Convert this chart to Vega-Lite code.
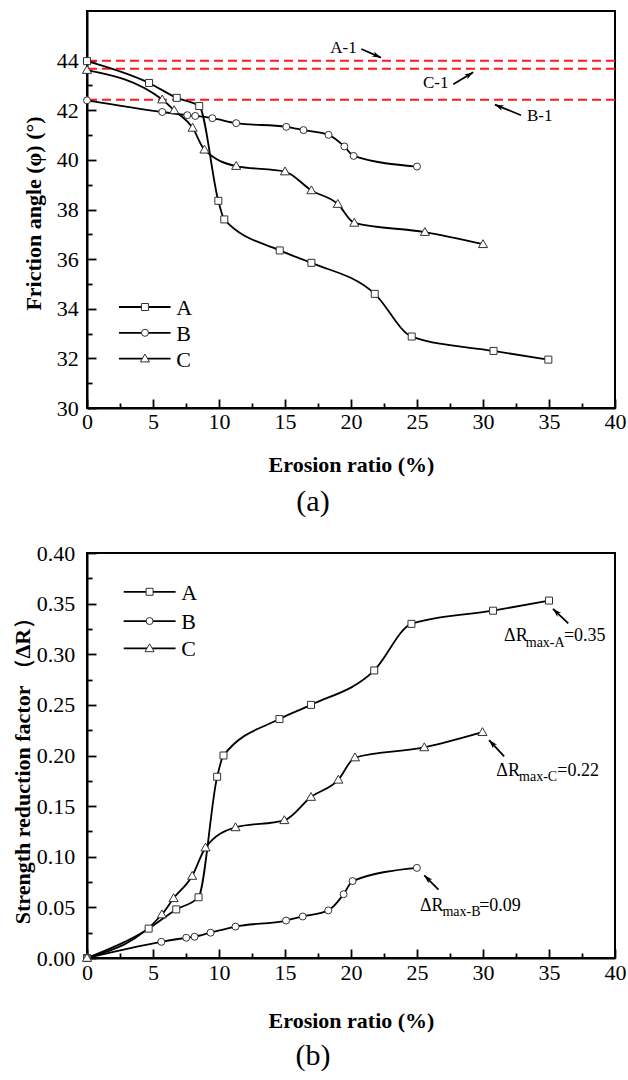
{
  "$schema": "https://vega.github.io/schema/vega-lite/v6.json",
  "padding": {"left": 10, "top": 10, "right": 0, "bottom": 0},
  "spacing": 23,
  "config": {
    "font": "Liberation Serif",
    "view": {"stroke": "black", "strokeWidth": 2},
    "style": {
      "guide-label": {"font": "Liberation Serif", "fontSize": 22, "fill": "black"},
      "guide-title": {"font": "Liberation Serif", "fontSize": 22, "fontWeight": "bold", "fill": "black"}
    },
    "axis": {
      "grid": false, "domainColor": "black", "domainWidth": 2, "tickColor": "black", "tickWidth": 1.8,
      "labelFont": "Liberation Serif", "labelFontSize": 22, "labelColor": "black",
      "titleFont": "Liberation Serif", "titleFontSize": 22, "titleFontWeight": "bold", "titleColor": "black"
    },
    "title": {"font": "Liberation Serif", "fontSize": 30, "fontWeight": "normal", "color": "black"}
  },
  "datasets": {
    "phi": [
      {"series": "A", "x": 0, "phi": 43.98}, {"series": "A", "x": 4.7, "phi": 43.1}, {"series": "A", "x": 6.8, "phi": 42.5},
      {"series": "A", "x": 8.5, "phi": 42.17}, {"series": "A", "x": 9.95, "phi": 38.35}, {"series": "A", "x": 10.4, "phi": 37.6},
      {"series": "A", "x": 14.6, "phi": 36.35}, {"series": "A", "x": 17.0, "phi": 35.85}, {"series": "A", "x": 21.8, "phi": 34.6},
      {"series": "A", "x": 24.6, "phi": 32.88}, {"series": "A", "x": 30.8, "phi": 32.3}, {"series": "A", "x": 34.95, "phi": 31.95},
      {"series": "B", "x": 0, "phi": 42.4}, {"series": "B", "x": 5.7, "phi": 41.93}, {"series": "B", "x": 7.6, "phi": 41.8},
      {"series": "B", "x": 8.2, "phi": 41.77}, {"series": "B", "x": 9.5, "phi": 41.68}, {"series": "B", "x": 11.3, "phi": 41.48},
      {"series": "B", "x": 15.1, "phi": 41.33}, {"series": "B", "x": 16.4, "phi": 41.2}, {"series": "B", "x": 18.3, "phi": 41.01},
      {"series": "B", "x": 19.5, "phi": 40.54}, {"series": "B", "x": 20.2, "phi": 40.16}, {"series": "B", "x": 25.0, "phi": 39.73},
      {"series": "C", "x": 0, "phi": 43.62}, {"series": "C", "x": 5.7, "phi": 42.43}, {"series": "C", "x": 6.6, "phi": 42.0},
      {"series": "C", "x": 8.0, "phi": 41.29}, {"series": "C", "x": 8.9, "phi": 40.41}, {"series": "C", "x": 11.3, "phi": 39.75},
      {"series": "C", "x": 15.0, "phi": 39.53}, {"series": "C", "x": 17.0, "phi": 38.77}, {"series": "C", "x": 19.0, "phi": 38.22},
      {"series": "C", "x": 20.25, "phi": 37.46}, {"series": "C", "x": 25.6, "phi": 37.09}, {"series": "C", "x": 30.0, "phi": 36.6}
    ],
    "dr": [
      {"series": "A", "x": 0, "dR": 0}, {"series": "A", "x": 4.67, "dR": 0.029}, {"series": "A", "x": 6.76, "dR": 0.048},
      {"series": "A", "x": 8.45, "dR": 0.060}, {"series": "A", "x": 9.86, "dR": 0.179}, {"series": "A", "x": 10.34, "dR": 0.200},
      {"series": "A", "x": 14.58, "dR": 0.236}, {"series": "A", "x": 16.97, "dR": 0.250}, {"series": "A", "x": 21.76, "dR": 0.284},
      {"series": "A", "x": 24.58, "dR": 0.330}, {"series": "A", "x": 30.76, "dR": 0.343}, {"series": "A", "x": 35.0, "dR": 0.353},
      {"series": "B", "x": 0, "dR": 0}, {"series": "B", "x": 5.63, "dR": 0.016}, {"series": "B", "x": 7.52, "dR": 0.020},
      {"series": "B", "x": 8.15, "dR": 0.021}, {"series": "B", "x": 9.36, "dR": 0.025}, {"series": "B", "x": 11.25, "dR": 0.031},
      {"series": "B", "x": 15.08, "dR": 0.037}, {"series": "B", "x": 16.34, "dR": 0.041}, {"series": "B", "x": 18.28, "dR": 0.047},
      {"series": "B", "x": 19.44, "dR": 0.063}, {"series": "B", "x": 20.12, "dR": 0.076}, {"series": "B", "x": 24.99, "dR": 0.089},
      {"series": "C", "x": 0, "dR": 0}, {"series": "C", "x": 5.67, "dR": 0.043}, {"series": "C", "x": 6.56, "dR": 0.059},
      {"series": "C", "x": 7.97, "dR": 0.081}, {"series": "C", "x": 8.98, "dR": 0.109}, {"series": "C", "x": 11.25, "dR": 0.129},
      {"series": "C", "x": 14.95, "dR": 0.136}, {"series": "C", "x": 16.97, "dR": 0.159}, {"series": "C", "x": 19.04, "dR": 0.176},
      {"series": "C", "x": 20.3, "dR": 0.198}, {"series": "C", "x": 25.55, "dR": 0.208}, {"series": "C", "x": 29.96, "dR": 0.223}
    ],
    "legendTop": [{"series": "A", "y": 34.07}, {"series": "B", "y": 33.03}, {"series": "C", "y": 31.99}],
    "legendBot": [{"series": "A", "y": 0.3617}, {"series": "B", "y": 0.3328}, {"series": "C", "y": 0.3058}],
    "refs": [{"name": "A-1", "phi": 44.0}, {"name": "C-1", "phi": 43.67}, {"name": "B-1", "phi": 42.42}],
    "arrowsTop": [
      {"name": "A-1", "x": 20.78, "y": 44.47, "x2": 22.27, "y2": 44.12},
      {"name": "C-1", "x": 27.75, "y": 43.05, "x2": 29.26, "y2": 43.53},
      {"name": "B-1", "x": 32.88, "y": 41.80, "x2": 30.9, "y2": 42.23}
    ],
    "labelsTop": [
      {"text": "A-1", "x": 19.43, "y": 44.51},
      {"text": "C-1", "x": 26.42, "y": 43.08},
      {"text": "B-1", "x": 34.30, "y": 41.75}
    ],
    "arrowsBot": [
      {"name": "A", "x": 36.46, "y": 0.3305, "x2": 35.30, "y2": 0.3449},
      {"name": "C", "x": 31.6, "y": 0.1991, "x2": 30.46, "y2": 0.2152},
      {"name": "B", "x": 26.63, "y": 0.0676, "x2": 25.55, "y2": 0.0817}
    ],
    "labelsBotMain": [
      {"text": "ΔR", "x": 31.60, "y": 0.3130}, {"text": "=0.35", "x": 36.13, "y": 0.3130},
      {"text": "ΔR", "x": 31.01, "y": 0.1796}, {"text": "=0.22", "x": 35.63, "y": 0.1796},
      {"text": "ΔR", "x": 25.22, "y": 0.0468}, {"text": "=0.09", "x": 29.71, "y": 0.0468}
    ],
    "labelsBotSub": [
      {"text": "max-A", "x": 33.24, "y": 0.3076},
      {"text": "max-C", "x": 32.73, "y": 0.1747},
      {"text": "max-B", "x": 26.93, "y": 0.0412}
    ]
  },
  "vconcat": [
    {
      "width": 528, "height": 397,
      "title": {"text": "(a)", "orient": "bottom", "dx": -38, "offset": 12},
      "layer": [
        {
          "data": {"name": "refs"},
          "mark": {"type": "rule", "color": "#ff1a1a", "strokeWidth": 2, "strokeDash": [9, 5]},
          "encoding": {"y": {"field": "phi", "type": "quantitative", "scale": {"domain": [30, 45]}, "axis": null}}
        },
        {
          "data": {"name": "phi"},
          "mark": {"type": "line", "interpolate": "monotone", "color": "black", "strokeWidth": 1.8},
          "encoding": {
            "x": {"field": "x", "type": "quantitative", "scale": {"domain": [0, 40]},
              "axis": {"orient": "bottom", "values": [0, 5, 10, 15, 20, 25, 30, 35, 40], "tickSize": -9, "labelPadding": 12, "labelFlush": false,
                "labelFont": "Liberation Serif", "labelFontSize": 22, "titleFont": "Liberation Serif", "titleFontSize": 22, "titleFontWeight": "bold",
                "title": "Erosion ratio (%)", "titleX": 264, "titleY": 56, "titleAlign": "center", "titleBaseline": "middle"}},
            "y": {"field": "phi", "type": "quantitative", "scale": {"domain": [30, 45]},
              "axis": {"orient": "left", "values": [30, 32, 34, 36, 38, 40, 42, 44], "tickSize": -9, "labelPadding": 17.7,
                "labelFont": "Liberation Serif", "labelFontSize": 22, "titleFont": "Liberation Serif", "titleFontSize": 22, "titleFontWeight": "bold",
                "title": "Friction angle (φ) (°)", "titleX": -53.7, "titleY": 202, "titleAngle": -90, "titleAlign": "center", "titleBaseline": "middle"}},
            "detail": {"field": "series"}
          }
        },
        {
          "data": {"name": "phi"},
          "mark": {"type": "point", "filled": true, "fill": "white", "stroke": "#333", "strokeWidth": 1, "opacity": 1, "size": 49},
          "encoding": {
            "x": {"field": "x", "type": "quantitative",
              "axis": {"orient": "bottom", "values": [2.5, 7.5, 12.5, 17.5, 22.5, 27.5, 32.5, 37.5], "tickSize": -5, "labels": false, "domain": false, "title": null}},
            "y": {"field": "phi", "type": "quantitative",
              "axis": {"orient": "left", "values": [31, 33, 35, 37, 39, 41, 43], "tickSize": -5, "labels": false, "domain": false, "title": null}},
            "shape": {"field": "series", "type": "nominal", "scale": {"domain": ["A", "B", "C"], "range": ["square", "circle", "M0,-1.3L1.3,0.95L-1.3,0.95Z"]}, "legend": null}
          }
        },
        {
          "data": {"name": "legendTop"},
          "mark": {"type": "rule", "color": "black", "strokeWidth": 1.8},
          "encoding": {
            "x": {"datum": 2.42, "type": "quantitative", "axis": null}, "x2": {"datum": 6.33},
            "y": {"field": "y", "type": "quantitative", "axis": null}
          }
        },
        {
          "data": {"name": "legendTop"},
          "mark": {"type": "point", "filled": true, "fill": "white", "stroke": "#333", "strokeWidth": 1, "opacity": 1, "size": 49},
          "encoding": {
            "x": {"datum": 4.39, "type": "quantitative", "axis": null},
            "y": {"field": "y", "type": "quantitative", "axis": null},
            "shape": {"field": "series", "type": "nominal", "legend": null}
          }
        },
        {
          "data": {"name": "legendTop"},
          "mark": {"type": "text", "font": "Liberation Serif", "fontSize": 22, "align": "left", "baseline": "middle", "color": "black", "dy": 1},
          "encoding": {
            "x": {"datum": 6.77, "type": "quantitative", "axis": null},
            "y": {"field": "y", "type": "quantitative", "axis": null},
            "text": {"field": "series"}
          }
        },
        {
          "data": {"name": "arrowsTop"},
          "mark": {"type": "rule", "color": "black", "strokeWidth": 1.8},
          "encoding": {
            "x": {"field": "x", "type": "quantitative", "axis": null}, "x2": {"field": "x2"},
            "y": {"field": "y", "type": "quantitative", "axis": null}, "y2": {"field": "y2"}
          }
        },
        {
          "data": {"name": "arrowsTop"}, "transform": [{"filter": "datum.name === 'A-1'"}],
          "mark": {"type": "point", "shape": "M0,0L0.7,2.2L0,1.6L-0.7,2.2Z", "angle": 115, "filled": true, "color": "black", "opacity": 1, "size": 64},
          "encoding": {"x": {"field": "x2", "type": "quantitative", "axis": null}, "y": {"field": "y2", "type": "quantitative", "axis": null}}
        },
        {
          "data": {"name": "arrowsTop"}, "transform": [{"filter": "datum.name === 'C-1'"}],
          "mark": {"type": "point", "shape": "M0,0L0.7,2.2L0,1.6L-0.7,2.2Z", "angle": 58, "filled": true, "color": "black", "opacity": 1, "size": 64},
          "encoding": {"x": {"field": "x2", "type": "quantitative", "axis": null}, "y": {"field": "y2", "type": "quantitative", "axis": null}}
        },
        {
          "data": {"name": "arrowsTop"}, "transform": [{"filter": "datum.name === 'B-1'"}],
          "mark": {"type": "point", "shape": "M0,0L0.7,2.2L0,1.6L-0.7,2.2Z", "angle": 294, "filled": true, "color": "black", "opacity": 1, "size": 64},
          "encoding": {"x": {"field": "x2", "type": "quantitative", "axis": null}, "y": {"field": "y2", "type": "quantitative", "axis": null}}
        },
        {
          "data": {"name": "labelsTop"},
          "mark": {"type": "text", "font": "Liberation Serif", "fontSize": 17, "align": "center", "baseline": "middle", "color": "black"},
          "encoding": {
            "x": {"field": "x", "type": "quantitative", "axis": null},
            "y": {"field": "y", "type": "quantitative", "axis": null},
            "text": {"field": "text"}
          }
        }
      ],
      "resolve": {"axis": {"x": "independent", "y": "independent"}}
    },
    {
      "width": 528, "height": 405,
      "title": {"text": "(b)", "orient": "bottom", "dx": -38, "offset": 10},
      "layer": [
        {
          "data": {"name": "dr"},
          "mark": {"type": "line", "interpolate": "monotone", "color": "black", "strokeWidth": 1.8},
          "encoding": {
            "x": {"field": "x", "type": "quantitative", "scale": {"domain": [0, 40]},
              "axis": {"orient": "bottom", "values": [0, 5, 10, 15, 20, 25, 30, 35, 40], "tickSize": -9, "labelPadding": 13, "labelFlush": false,
                "labelFont": "Liberation Serif", "labelFontSize": 22, "titleFont": "Liberation Serif", "titleFontSize": 22, "titleFontWeight": "bold",
                "title": "Erosion ratio (%)", "titleX": 264, "titleY": 62, "titleAlign": "center", "titleBaseline": "middle"}},
            "y": {"field": "dR", "type": "quantitative", "scale": {"domain": [0, 0.4]},
              "axis": {"orient": "left", "values": [0, 0.05, 0.1, 0.15, 0.2, 0.25, 0.3, 0.35, 0.4], "format": ".2f", "tickSize": -9, "labelPadding": 21.3,
                "labelFont": "Liberation Serif", "labelFontSize": 22, "titleFont": "Liberation Serif", "titleFontSize": 22, "titleFontWeight": "bold",
                "title": "Strength reduction factor （ΔR）", "titleX": -64.3, "titleY": 212, "titleAngle": -90, "titleAlign": "center", "titleBaseline": "middle"}},
            "detail": {"field": "series"}
          }
        },
        {
          "data": {"name": "dr"},
          "mark": {"type": "point", "filled": true, "fill": "white", "stroke": "#333", "strokeWidth": 1, "opacity": 1, "size": 49},
          "encoding": {
            "x": {"field": "x", "type": "quantitative",
              "axis": {"orient": "bottom", "values": [2.5, 7.5, 12.5, 17.5, 22.5, 27.5, 32.5, 37.5], "tickSize": -5, "labels": false, "domain": false, "title": null}},
            "y": {"field": "dR", "type": "quantitative",
              "axis": {"orient": "left", "values": [0.025, 0.075, 0.125, 0.175, 0.225, 0.275, 0.325, 0.375], "tickSize": -5, "labels": false, "domain": false, "title": null}},
            "shape": {"field": "series", "type": "nominal", "scale": {"domain": ["A", "B", "C"], "range": ["square", "circle", "M0,-1.3L1.3,0.95L-1.3,0.95Z"]}, "legend": null}
          }
        },
        {
          "data": {"name": "legendBot"},
          "mark": {"type": "rule", "color": "black", "strokeWidth": 1.8},
          "encoding": {
            "x": {"datum": 2.78, "type": "quantitative", "axis": null}, "x2": {"datum": 6.71},
            "y": {"field": "y", "type": "quantitative", "axis": null}
          }
        },
        {
          "data": {"name": "legendBot"},
          "mark": {"type": "point", "filled": true, "fill": "white", "stroke": "#333", "strokeWidth": 1, "opacity": 1, "size": 49},
          "encoding": {
            "x": {"datum": 4.74, "type": "quantitative", "axis": null},
            "y": {"field": "y", "type": "quantitative", "axis": null},
            "shape": {"field": "series", "type": "nominal", "legend": null}
          }
        },
        {
          "data": {"name": "legendBot"},
          "mark": {"type": "text", "font": "Liberation Serif", "fontSize": 22, "align": "left", "baseline": "middle", "color": "black", "dy": 1},
          "encoding": {
            "x": {"datum": 7.14, "type": "quantitative", "axis": null},
            "y": {"field": "y", "type": "quantitative", "axis": null},
            "text": {"field": "series"}
          }
        },
        {
          "data": {"name": "arrowsBot"},
          "mark": {"type": "rule", "color": "black", "strokeWidth": 1.8},
          "encoding": {
            "x": {"field": "x", "type": "quantitative", "axis": null}, "x2": {"field": "x2"},
            "y": {"field": "y", "type": "quantitative", "axis": null}, "y2": {"field": "y2"}
          }
        },
        {
          "data": {"name": "arrowsBot"}, "transform": [{"filter": "datum.name === 'A'"}],
          "mark": {"type": "point", "shape": "M0,0L0.7,2.2L0,1.6L-0.7,2.2Z", "angle": 314, "filled": true, "color": "black", "opacity": 1, "size": 64},
          "encoding": {"x": {"field": "x2", "type": "quantitative", "axis": null}, "y": {"field": "y2", "type": "quantitative", "axis": null}}
        },
        {
          "data": {"name": "arrowsBot"}, "transform": [{"filter": "datum.name === 'C'"}],
          "mark": {"type": "point", "shape": "M0,0L0.7,2.2L0,1.6L-0.7,2.2Z", "angle": 317, "filled": true, "color": "black", "opacity": 1, "size": 64},
          "encoding": {"x": {"field": "x2", "type": "quantitative", "axis": null}, "y": {"field": "y2", "type": "quantitative", "axis": null}}
        },
        {
          "data": {"name": "arrowsBot"}, "transform": [{"filter": "datum.name === 'B'"}],
          "mark": {"type": "point", "shape": "M0,0L0.7,2.2L0,1.6L-0.7,2.2Z", "angle": 315, "filled": true, "color": "black", "opacity": 1, "size": 64},
          "encoding": {"x": {"field": "x2", "type": "quantitative", "axis": null}, "y": {"field": "y2", "type": "quantitative", "axis": null}}
        },
        {
          "data": {"name": "labelsBotMain"},
          "mark": {"type": "text", "font": "Liberation Serif", "fontSize": 18, "align": "left", "baseline": "alphabetic", "color": "black"},
          "encoding": {
            "x": {"field": "x", "type": "quantitative", "axis": null},
            "y": {"field": "y", "type": "quantitative", "axis": null},
            "text": {"field": "text"}
          }
        },
        {
          "data": {"name": "labelsBotSub"},
          "mark": {"type": "text", "font": "Liberation Serif", "fontSize": 14, "align": "left", "baseline": "alphabetic", "color": "black"},
          "encoding": {
            "x": {"field": "x", "type": "quantitative", "axis": null},
            "y": {"field": "y", "type": "quantitative", "axis": null},
            "text": {"field": "text"}
          }
        }
      ],
      "resolve": {"axis": {"x": "independent", "y": "independent"}}
    }
  ],
  "resolve": {"scale": {"x": "independent", "y": "independent", "shape": "independent"}}
}
